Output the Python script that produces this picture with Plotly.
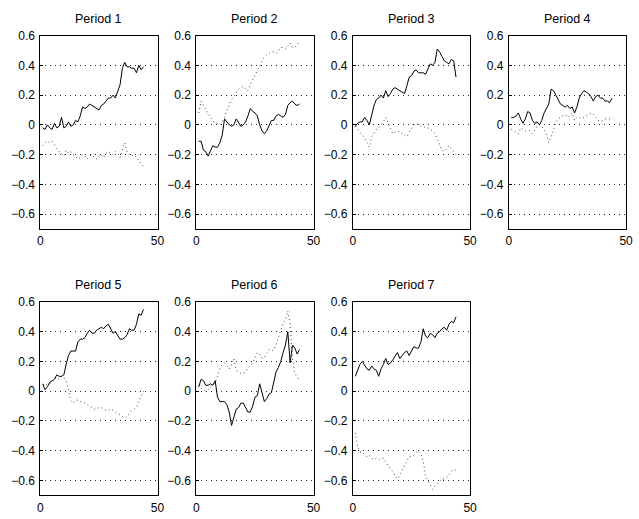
import plotly.graph_objects as go

x_vals = list(range(1, 45))

titles = ["Period 1", "Period 2", "Period 3", "Period 4", "Period 5", "Period 6", "Period 7"]

solid_1 = [-0.02, -0.03, 0.00, -0.02, -0.03, 0.01, -0.02, -0.01, 0.05, -0.02, -0.01, 0.02, -0.01, 0.00, 0.03,
           0.02, 0.06, 0.12, 0.11, 0.12, 0.14, 0.13, 0.12, 0.11, 0.10, 0.13, 0.14, 0.16, 0.18, 0.18, 0.20, 0.18,
           0.22, 0.27, 0.38, 0.42, 0.39, 0.39, 0.38, 0.38, 0.35, 0.40, 0.37, 0.39]
dotted_1 = [-0.14, -0.12, -0.11, -0.12, -0.11, -0.14, -0.16, -0.18, -0.19, -0.21, -0.17, -0.19, -0.18, -0.20,
            -0.21, -0.23, -0.22, -0.20, -0.21, -0.23, -0.21, -0.20, -0.22, -0.23, -0.21, -0.20, -0.22, -0.19,
            -0.18, -0.19, -0.20, -0.18, -0.19, -0.22, -0.17, -0.12, -0.18, -0.20, -0.21, -0.20, -0.22, -0.24,
            -0.26, -0.28]

solid_2 = [-0.11, -0.11, -0.17, -0.18, -0.21, -0.17, -0.14, -0.15, -0.15, -0.12, -0.07, 0.04, 0.02, 0.00, -0.01,
           0.00, 0.04, 0.01, -0.01, 0.00, 0.02, 0.06, 0.11, 0.09, 0.08, 0.06, 0.00, -0.04, -0.06, -0.04, 0.00,
           0.03, 0.03, 0.06, 0.07, 0.06, 0.05, 0.07, 0.13, 0.15, 0.16, 0.14, 0.13, 0.14]
dotted_2 = [0.08, 0.16, 0.13, 0.10, 0.07, 0.05, 0.03, 0.01, 0.01, 0.00, 0.02, 0.05, 0.10, 0.14, 0.17, 0.19,
            0.22, 0.24, 0.25, 0.26, 0.24, 0.23, 0.27, 0.30, 0.34, 0.37, 0.40, 0.43, 0.46, 0.47, 0.48, 0.49,
            0.49, 0.48, 0.50, 0.52, 0.52, 0.51, 0.53, 0.55, 0.52, 0.52, 0.54, 0.56]

solid_3 = [-0.01, 0.01, 0.02, 0.02, 0.05, 0.03, 0.00, 0.06, 0.13, 0.17, 0.18, 0.20, 0.18, 0.23, 0.19, 0.21,
           0.24, 0.25, 0.24, 0.23, 0.22, 0.21, 0.26, 0.32, 0.33, 0.36, 0.37, 0.35, 0.35, 0.35, 0.34, 0.37,
           0.41, 0.40, 0.42, 0.51, 0.49, 0.46, 0.43, 0.42, 0.41, 0.44, 0.43, 0.32]
dotted_3 = [-0.01, -0.03, -0.05, -0.07, -0.09, -0.12, -0.15, -0.08, -0.05, -0.03, -0.02, 0.00, 0.02, 0.05,
            0.01, -0.03, -0.06, -0.05, -0.04, -0.05, -0.06, -0.07, -0.08, -0.05, -0.02, 0.00, 0.01, 0.00,
            -0.01, -0.01, -0.02, -0.02, -0.03, -0.04, -0.06, -0.10, -0.14, -0.17, -0.18, -0.16, -0.14, -0.16,
            -0.18, -0.20]

solid_4 = [0.05, 0.05, 0.06, 0.08, 0.04, 0.01, 0.04, 0.09, 0.08, 0.03, 0.01, 0.02, 0.00, 0.03, 0.08, 0.11,
           0.14, 0.24, 0.23, 0.20, 0.17, 0.14, 0.13, 0.12, 0.13, 0.11, 0.12, 0.08, 0.12, 0.18, 0.21, 0.23,
           0.22, 0.21, 0.19, 0.16, 0.19, 0.20, 0.18, 0.18, 0.16, 0.16, 0.15, 0.18]
dotted_4 = [-0.03, -0.04, -0.05, -0.06, -0.02, -0.03, -0.04, -0.04, -0.04, -0.06, -0.03, -0.01, 0.00, -0.01,
            -0.03, -0.06, -0.12, -0.08, -0.04, 0.02, 0.04, 0.05, 0.06, 0.07, 0.05, 0.07, 0.08, 0.03, 0.05,
            0.05, 0.04, 0.05, 0.06, 0.07, 0.08, 0.07, 0.05, 0.03, 0.02, 0.03, 0.04, 0.04, 0.04, 0.04]

solid_5 = [0.05, 0.01, 0.03, 0.06, 0.07, 0.08, 0.11, 0.10, 0.10, 0.11, 0.18, 0.24, 0.27, 0.27, 0.27, 0.33,
           0.35, 0.35, 0.36, 0.39, 0.41, 0.39, 0.39, 0.41, 0.42, 0.43, 0.42, 0.44, 0.45, 0.42, 0.39, 0.40,
           0.37, 0.35, 0.35, 0.36, 0.38, 0.42, 0.41, 0.41, 0.45, 0.52, 0.51, 0.55]
dotted_5 = [0.04, 0.05, 0.04, 0.05, 0.07, 0.09, 0.09, 0.08, 0.10, 0.09, 0.07, 0.01, -0.06, -0.08, -0.06,
            -0.06, -0.07, -0.07, -0.08, -0.09, -0.10, -0.11, -0.12, -0.12, -0.11, -0.11, -0.12, -0.13, -0.13,
            -0.12, -0.13, -0.14, -0.15, -0.16, -0.17, -0.18, -0.17, -0.15, -0.13, -0.12, -0.11, -0.07, -0.03,
            0.00]

solid_6 = [0.03, 0.08, 0.07, 0.04, 0.04, 0.05, 0.04, 0.07, -0.04, -0.07, -0.07, -0.07, -0.09, -0.14, -0.23,
           -0.17, -0.12, -0.11, -0.08, -0.08, -0.11, -0.14, -0.14, -0.10, -0.04, -0.03, 0.05, -0.02, -0.07,
           -0.05, -0.02, -0.01, 0.06, 0.13, 0.16, 0.20, 0.26, 0.31, 0.40, 0.19, 0.31, 0.29, 0.25, 0.28]
dotted_6 = [0.04, 0.02, 0.01, 0.00, 0.01, 0.03, 0.04, 0.06, 0.10, 0.15, 0.18, 0.19, 0.17, 0.15, 0.18, 0.22,
            0.14, 0.13, 0.12, 0.12, 0.13, 0.16, 0.17, 0.19, 0.23, 0.26, 0.25, 0.22, 0.23, 0.26, 0.28, 0.27,
            0.28, 0.31, 0.36, 0.41, 0.46, 0.48, 0.54, 0.45, 0.22, 0.12, 0.09, 0.07]

solid_7 = [0.10, 0.14, 0.18, 0.20, 0.17, 0.15, 0.14, 0.17, 0.15, 0.14, 0.10, 0.15, 0.18, 0.22, 0.18, 0.19,
           0.21, 0.24, 0.26, 0.22, 0.24, 0.26, 0.27, 0.24, 0.27, 0.30, 0.29, 0.29, 0.33, 0.42, 0.37, 0.36,
           0.39, 0.38, 0.36, 0.39, 0.40, 0.42, 0.43, 0.41, 0.45, 0.47, 0.46, 0.50]
dotted_7 = [-0.28, -0.37, -0.41, -0.41, -0.43, -0.44, -0.43, -0.45, -0.46, -0.45, -0.46, -0.45, -0.45, -0.48,
            -0.50, -0.52, -0.54, -0.57, -0.59, -0.56, -0.53, -0.50, -0.47, -0.44, -0.44, -0.43, -0.41, -0.40,
            -0.42, -0.47, -0.57, -0.60, -0.63, -0.66, -0.64, -0.62, -0.61, -0.59, -0.59, -0.58, -0.56, -0.54,
            -0.53, -0.53]

solids = [solid_1, solid_2, solid_3, solid_4, solid_5, solid_6, solid_7]
dotteds = [dotted_1, dotted_2, dotted_3, dotted_4, dotted_5, dotted_6, dotted_7]

y_tick_vals = [-0.6, -0.4, -0.2, 0, 0.2, 0.4, 0.6]
y_tick_text = ["\u22120.6", "\u22120.4", "\u22120.2", "0", "0.2", "0.4", "0.6"]
x_tick_vals = [0, 50]
x_tick_text = ["0", "50"]

W, H = 639, 519
col_left = [38, 196.5, 355.5, 514]
col_w = 119
row_top = [29, 299]
row_h = 196

fig = go.Figure()
font = dict(family="Liberation Sans, Arial, sans-serif", size=12, color="black")
tfont = dict(family="Liberation Sans, Arial, sans-serif", size=12.5, color="black")
annotations = []
for i in range(7):
    r, c = divmod(i, 4)
    n = i + 1
    xa = "x" if n == 1 else f"x{n}"
    ya = "y" if n == 1 else f"y{n}"
    fig.add_trace(go.Scatter(x=x_vals, y=dotteds[i], mode="lines", xaxis=xa, yaxis=ya,
                             line=dict(color="#444444", width=1, dash="1px,3px"), showlegend=False))
    fig.add_trace(go.Scatter(x=x_vals, y=solids[i], mode="lines", xaxis=xa, yaxis=ya,
                             line=dict(color="black", width=1), showlegend=False))
    x0 = col_left[c] / W
    x1 = (col_left[c] + col_w) / W
    y1 = 1 - row_top[r] / H
    y0 = 1 - (row_top[r] + row_h) / H
    kx = "xaxis" if n == 1 else f"xaxis{n}"
    ky = "yaxis" if n == 1 else f"yaxis{n}"
    fig.layout[kx] = dict(domain=[x0, x1], range=[0, 50], anchor=ya, showgrid=False, zeroline=False,
                          showline=True, linecolor="black", linewidth=1, mirror=True,
                          tickvals=x_tick_vals, ticktext=x_tick_text, ticks="inside", ticklen=3,
                          tickcolor="black", tickfont=font, ticklabelstandoff=1)
    fig.layout[ky] = dict(domain=[y0, y1], range=[-0.7, 0.6], anchor=xa, showgrid=True,
                          gridcolor="#222222", griddash="1px,4px", gridwidth=1, zeroline=False,
                          showline=True, linecolor="black", linewidth=1, mirror=True,
                          tickvals=y_tick_vals, ticktext=y_tick_text, ticks="inside", ticklen=3,
                          tickcolor="black", tickfont=font, ticklabelstandoff=2)
    annotations.append(dict(text=titles[i], x=(x0 + x1) / 2, y=y1, xref="paper", yref="paper",
                            xanchor="center", yanchor="bottom", yshift=8, showarrow=False, font=tfont))

fig.update_layout(width=W, height=H, margin=dict(l=0, r=0, t=0, b=0), paper_bgcolor="white",
                  plot_bgcolor="white", annotations=annotations)
fig.write_html("out.html")
